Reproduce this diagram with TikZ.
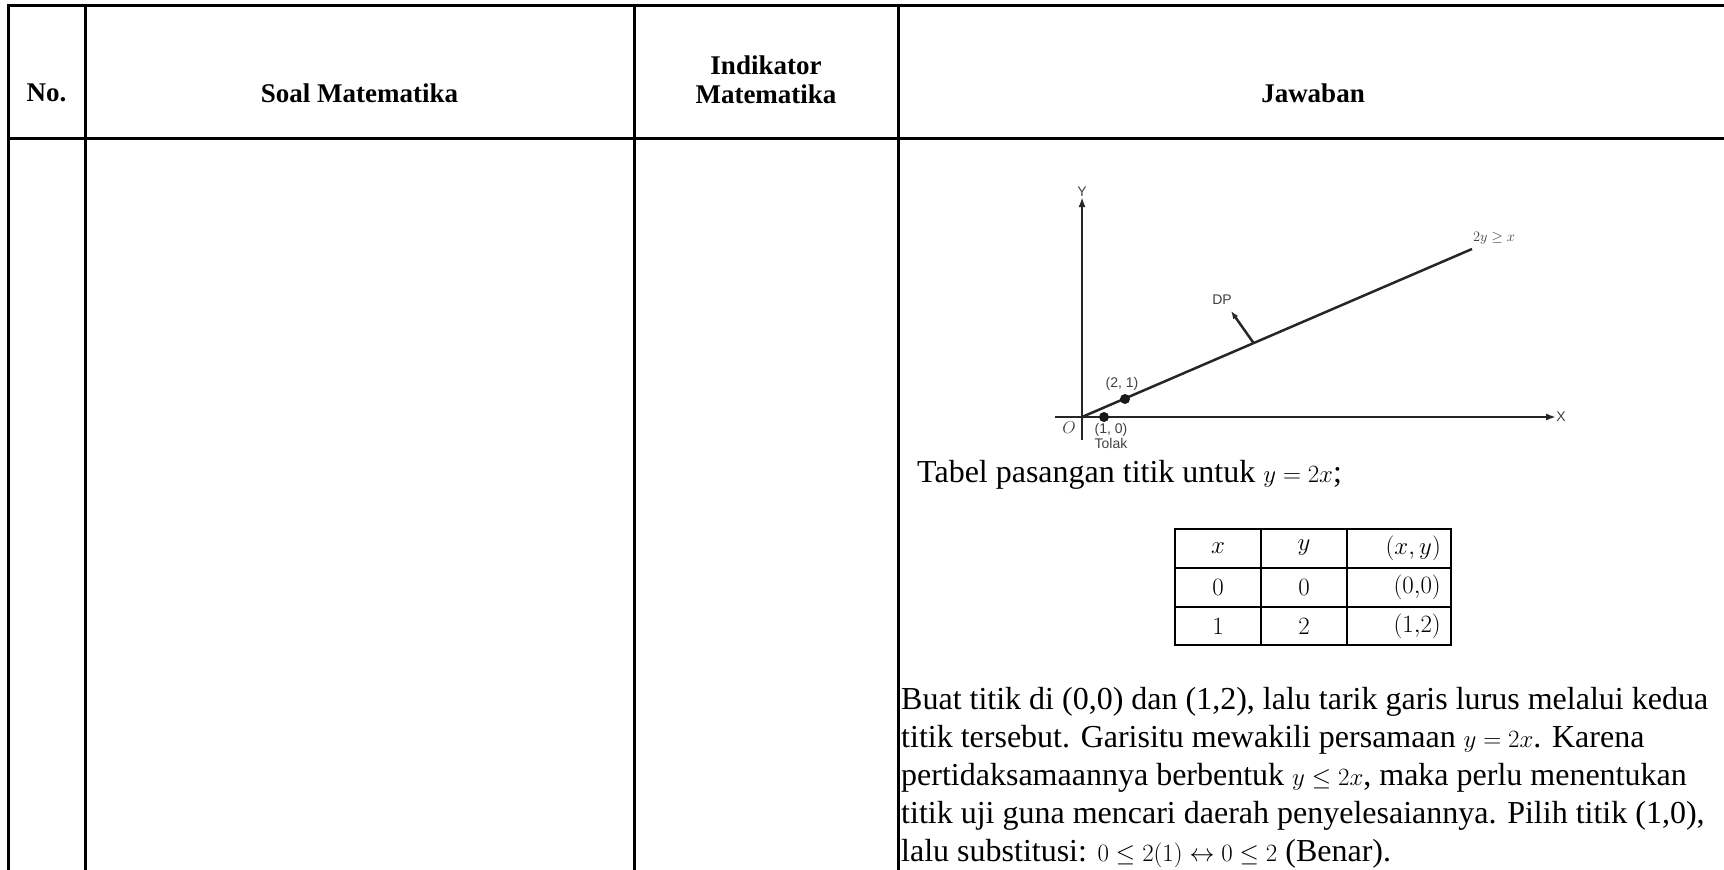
\documentclass[tikz,border=0pt]{standalone}
\usepackage{fontspec}
\setmainfont{Liberation Serif}
\setsansfont{Liberation Sans}
\usepackage{amsmath, amssymb}
\usetikzlibrary{arrows.meta, positioning, calc}

\begin{document}
\begin{tikzpicture}[x=1pt, y=-1pt, every node/.style={inner sep=0pt}]
    \tikzset{grid/.style={line width=3pt},
      head/.style={font=\fontsize{27}{29}\selectfont\bfseries, align=center},
      body/.style={font=\fontsize{32}{38}\selectfont, align=left},
      lbl/.style={font=\sffamily\fontsize{14}{16}\selectfont, text=black!75},
      graf/.style={line width=2.5pt, draw=black!85},
      axis/.style={graf, -{Latex[length=10pt, width=7pt]}},
      pt/.style={circle, fill=black!90, minimum size=10pt},
      cell/.style={font=\fontsize{27}{27}\selectfont}}
    \useasboundingbox (0,0) rectangle (1724,870);
    % outer table
    \draw[grid] (8,870) -- (8,5) -- (1724,5);
    \draw[grid] (8,138) -- (1724,138);
    \foreach \cx in {85,634,898} \draw[grid] (\cx,5) -- (\cx,870);
    \node[head] (no) at (46.5,93) {No.};
    \node[head] (soal) at (359.5,93) {Soal Matematika};
    \node[head] (ind) at (766,80) {Indikator\\Matematika};
    \node[head] (jaw) at (1313,93) {Jawaban};
    % graph
    \coordinate (O) at (1082,417);
    \coordinate (xs) at (1055,417);
    \coordinate (ys) at (1082,440);
    \coordinate (E) at (1472,249);
    \node[lbl] (X) at (1561,417) {X};
    \node[lbl] (Y) at (1082,192) {Y};
    \draw[axis] (xs) -- (X.west);
    \draw[axis] (ys) -- (Y.south);
    \draw[graf] (O) -- (E);
    \node[lbl, font=\fontsize{15}{15}\selectfont] (lim) at (1494,238) {$2y \geq x$};
    \node[pt] (P21) at (1125,399) {};
    \node[pt] (P10) at (1104,417) {};
    \node[lbl] (L21) at (1122,384) {(2, 1)};
    \node[lbl] (L10) at (1111,430) {(1, 0)};
    \node[lbl, below=1pt of L10] (tolak) {Tolak};
    \node[lbl, font=\fontsize{16}{16}\selectfont] (orig) at (1069,428) {$O$};
    \node[lbl] (DP) at (1222,300) {DP};
    \coordinate (B) at ($(O)!0.44!(E)$);
    \coordinate (tip) at (1231,311);
    \draw[graf, -{Latex[length=8pt, width=6pt]}] (B) -- (tip);
    % text and small table
    \node[body, anchor=west] (tabel) at (917,475) {Tabel pasangan titik untuk $y = 2x$;};
    \draw[line width=2pt] (1175,529) rectangle (1451,645);
    \draw[line width=2pt] (1175,568) -- (1451,568) (1175,607) -- (1451,607);
    \draw[line width=2pt] (1261,529) -- (1261,645) (1347,529) -- (1347,645);
    \foreach \a/\b/\c [count=\r] in {x/y/{(x,y)}, 0/0/{(0{,}0)}, 1/2/{(1{,}2)}} {
      \node[cell] (t\r a) at (1218,{548+39*(\r-1)}) {$\a$};
      \node[cell] (t\r b) at (1304,{548+39*(\r-1)}) {$\b$};
      \node[cell, anchor=east] (t\r c) at (1441,{548+39*(\r-1)}) {$\c$};
    }
    \node[body, anchor=north west] (jelas) at (901,687) {Buat titik di (0,0) dan (1,2), lalu tarik garis lurus melalui kedua\\
      titik tersebut. Garisitu mewakili persamaan $y = 2x$. Karena\\
      pertidaksamaannya berbentuk $y \leq 2x$, maka perlu menentukan\\
      titik uji guna mencari daerah penyelesaiannya. Pilih titik (1,0),\\
      lalu substitusi: $0 \leq 2(1) \leftrightarrow 0 \leq 2$ (Benar).};
  \end{tikzpicture}
\end{document}
